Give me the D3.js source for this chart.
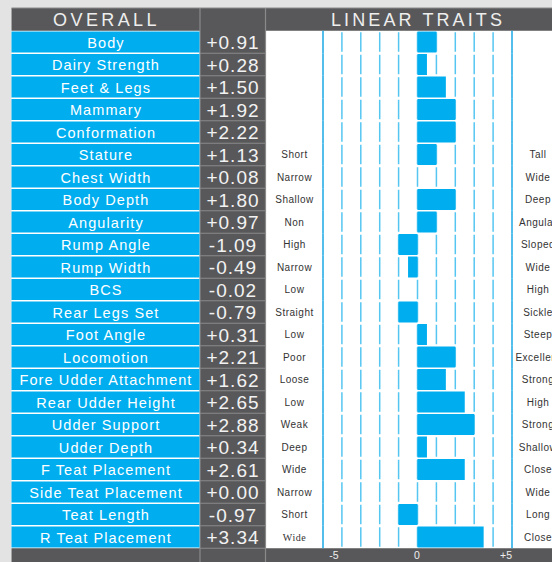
<!DOCTYPE html>
<html>
<head>
<meta charset="utf-8">
<script src="https://cdn.jsdelivr.net/npm/d3@7"></script>
<style>
  html, body { margin: 0; padding: 0; background: #e3e3e3; }
  svg { display: block; }
</style>
</head>
<body>
<svg id="chart" width="552" height="562"></svg>
<script>
// trait names, PTA values, low/high descriptors
const traits = ["Body", "Dairy Strength", "Feet & Legs", "Mammary", "Conformation",
  "Stature", "Chest Width", "Body Depth", "Angularity", "Rump Angle", "Rump Width",
  "BCS", "Rear Legs Set", "Foot Angle", "Locomotion", "Fore Udder Attachment",
  "Rear Udder Height", "Udder Support", "Udder Depth", "F Teat Placement",
  "Side Teat Placement", "Teat Length", "R Teat Placement"];
const values = [0.91, 0.28, 1.50, 1.92, 2.22, 1.13, 0.08, 1.80, 0.97, -1.09, -0.49,
  -0.02, -0.79, 0.31, 2.21, 1.62, 2.65, 2.88, 0.34, 2.61, 0.00, -0.97, 3.34];
const lowLabels = ["", "", "", "", "", "Short", "Narrow", "Shallow", "Non", "High",
  "Narrow", "Low", "Straight", "Low", "Poor", "Loose", "Low", "Weak", "Deep", "Wide",
  "Narrow", "Short", "Wide"];
const highLabels = ["", "", "", "", "", "Tall", "Wide", "Deep", "Angular", "Sloped",
  "Wide", "High", "Sickle", "Steep", "Excellent", "Strong", "High", "Strong", "Shallow",
  "Close", "Wide", "Long", "Close"];
const axisTicks = [-5, 0, 5];
const axisLabels = ["-5", "0", "+5"];

const blue = "#00aeef";
const dark = "#58585a";
const font = "'Liberation Sans', Arial, sans-serif";

const svg = d3.select("#chart");

const y = d3.scaleBand().domain(traits).range([30.75, 548.25]);
const x = d3.scaleLinear().domain([-5, 5]).range([323, 512]);

// background panels
svg.append("rect").attr("x", 11.5).attr("y", 8).attr("width", 541).attr("height", 554).attr("fill", "#fff");
svg.append("rect").attr("x", 11.5).attr("y", 8).attr("width", 541).attr("height", 22.75).attr("fill", dark);
svg.append("rect").attr("x", 200).attr("y", 8).attr("width", 65).attr("height", 554).attr("fill", dark);
svg.append("rect").attr("x", 11.5).attr("y", 548.25).attr("width", 541).attr("height", 14).attr("fill", dark);

// column separators
[200, 265.5].forEach(cx => {
  svg.append("line").attr("x1", cx).attr("x2", cx).attr("y1", 8).attr("y2", 562)
    .attr("stroke", "#8a8a8c").attr("stroke-width", 1.2);
});
svg.append("line").attr("x1", 11.5).attr("x2", 552).attr("y1", 8).attr("y2", 8)
  .attr("stroke", "#8a8a8c").attr("stroke-width", 1);

// header titles
svg.append("text").attr("x", 106.5).attr("y", 25.5).attr("text-anchor", "middle")
  .attr("fill", "#eee").style("font-family", font).style("font-size", "18px")
  .style("letter-spacing", "3.4px").text("OVERALL");
svg.append("text").attr("x", 418).attr("y", 25.5).attr("text-anchor", "middle")
  .attr("fill", "#eee").style("font-family", font).style("font-size", "18px")
  .style("letter-spacing", "3.1px").text("LINEAR TRAITS");

// rows
const rows = svg.append("g").selectAll("g").data(traits).enter().append("g")
  .attr("transform", d => `translate(0,${y(d)})`);

rows.append("rect").attr("x", 11.5).attr("y", 0.75).attr("width", 188)
  .attr("height", y.bandwidth() - 1.5).attr("fill", blue);

rows.append("text").attr("x", 106).attr("y", y.bandwidth() / 2 + 5.5)
  .attr("text-anchor", "middle").attr("fill", "#fff")
  .style("font-family", font).style("font-size", "14.5px").style("letter-spacing", "1.1px")
  .text(d => d);

// value cell separators
rows.append("line").attr("x1", 200).attr("x2", 265.5)
  .attr("y1", y.bandwidth()).attr("y2", y.bandwidth())
  .attr("stroke", "#8a8a8c").attr("stroke-width", 1.2);

rows.append("text").attr("x", 233).attr("y", y.bandwidth() / 2 + 7)
  .attr("text-anchor", "middle").attr("fill", "#f2f2f2")
  .style("font-family", font).style("font-size", "19px").style("letter-spacing", "1px")
  .text((d, i) => (values[i] >= 0 ? "+" : "") + values[i].toFixed(2));

// grid segments per row
const ticks = d3.range(-5, 6);
rows.each(function () {
  d3.select(this).selectAll("line.grid").data(ticks).enter().append("line")
    .attr("class", "grid")
    .attr("x1", t => x(t)).attr("x2", t => x(t))
    .attr("y1", t => Math.abs(t) === 5 ? 0 : 1.5)
    .attr("y2", t => Math.abs(t) === 5 ? y.bandwidth() : y.bandwidth() - 1.5)
    .attr("stroke", t => Math.abs(t) === 5 ? "#1aa9e6" : "#55c6f1")
    .attr("stroke-width", 1.5);
});

// bars (rounded to nearest half point as in the source graphic)
rows.append("rect")
  .attr("x", (d, i) => x(Math.min(0, Math.round(values[i] * 2) / 2)))
  .attr("y", 0.75)
  .attr("width", (d, i) => Math.abs(x(Math.round(values[i] * 2) / 2) - x(0)))
  .attr("height", y.bandwidth() - 1.5)
  .attr("fill", blue);

// descriptors
rows.append("text").attr("x", 294.5).attr("y", y.bandwidth() / 2 + 3.5)
  .attr("text-anchor", "middle").attr("fill", "#333")
  .style("font-family", (d, i) => i === traits.length - 1 ? "'Liberation Serif', serif" : font)
  .style("font-size", "10px").style("letter-spacing", "0.5px")
  .text((d, i) => lowLabels[i]);
rows.append("text").attr("x", 538).attr("y", y.bandwidth() / 2 + 3.5)
  .attr("text-anchor", "middle").attr("fill", "#333")
  .style("font-family", font).style("font-size", "10px").style("letter-spacing", "0.5px")
  .text((d, i) => highLabels[i]);

// axis labels
const labelPos = [334, 417, 506];
svg.append("g").selectAll("text").data(axisTicks).enter().append("text")
  .attr("x", (t, i) => labelPos[i])
  .attr("y", 559).attr("text-anchor", "middle").attr("fill", "#eee")
  .style("font-family", font).style("font-size", "10.5px")
  .text((t, i) => axisLabels[i]);
</script>
</body>
</html>
